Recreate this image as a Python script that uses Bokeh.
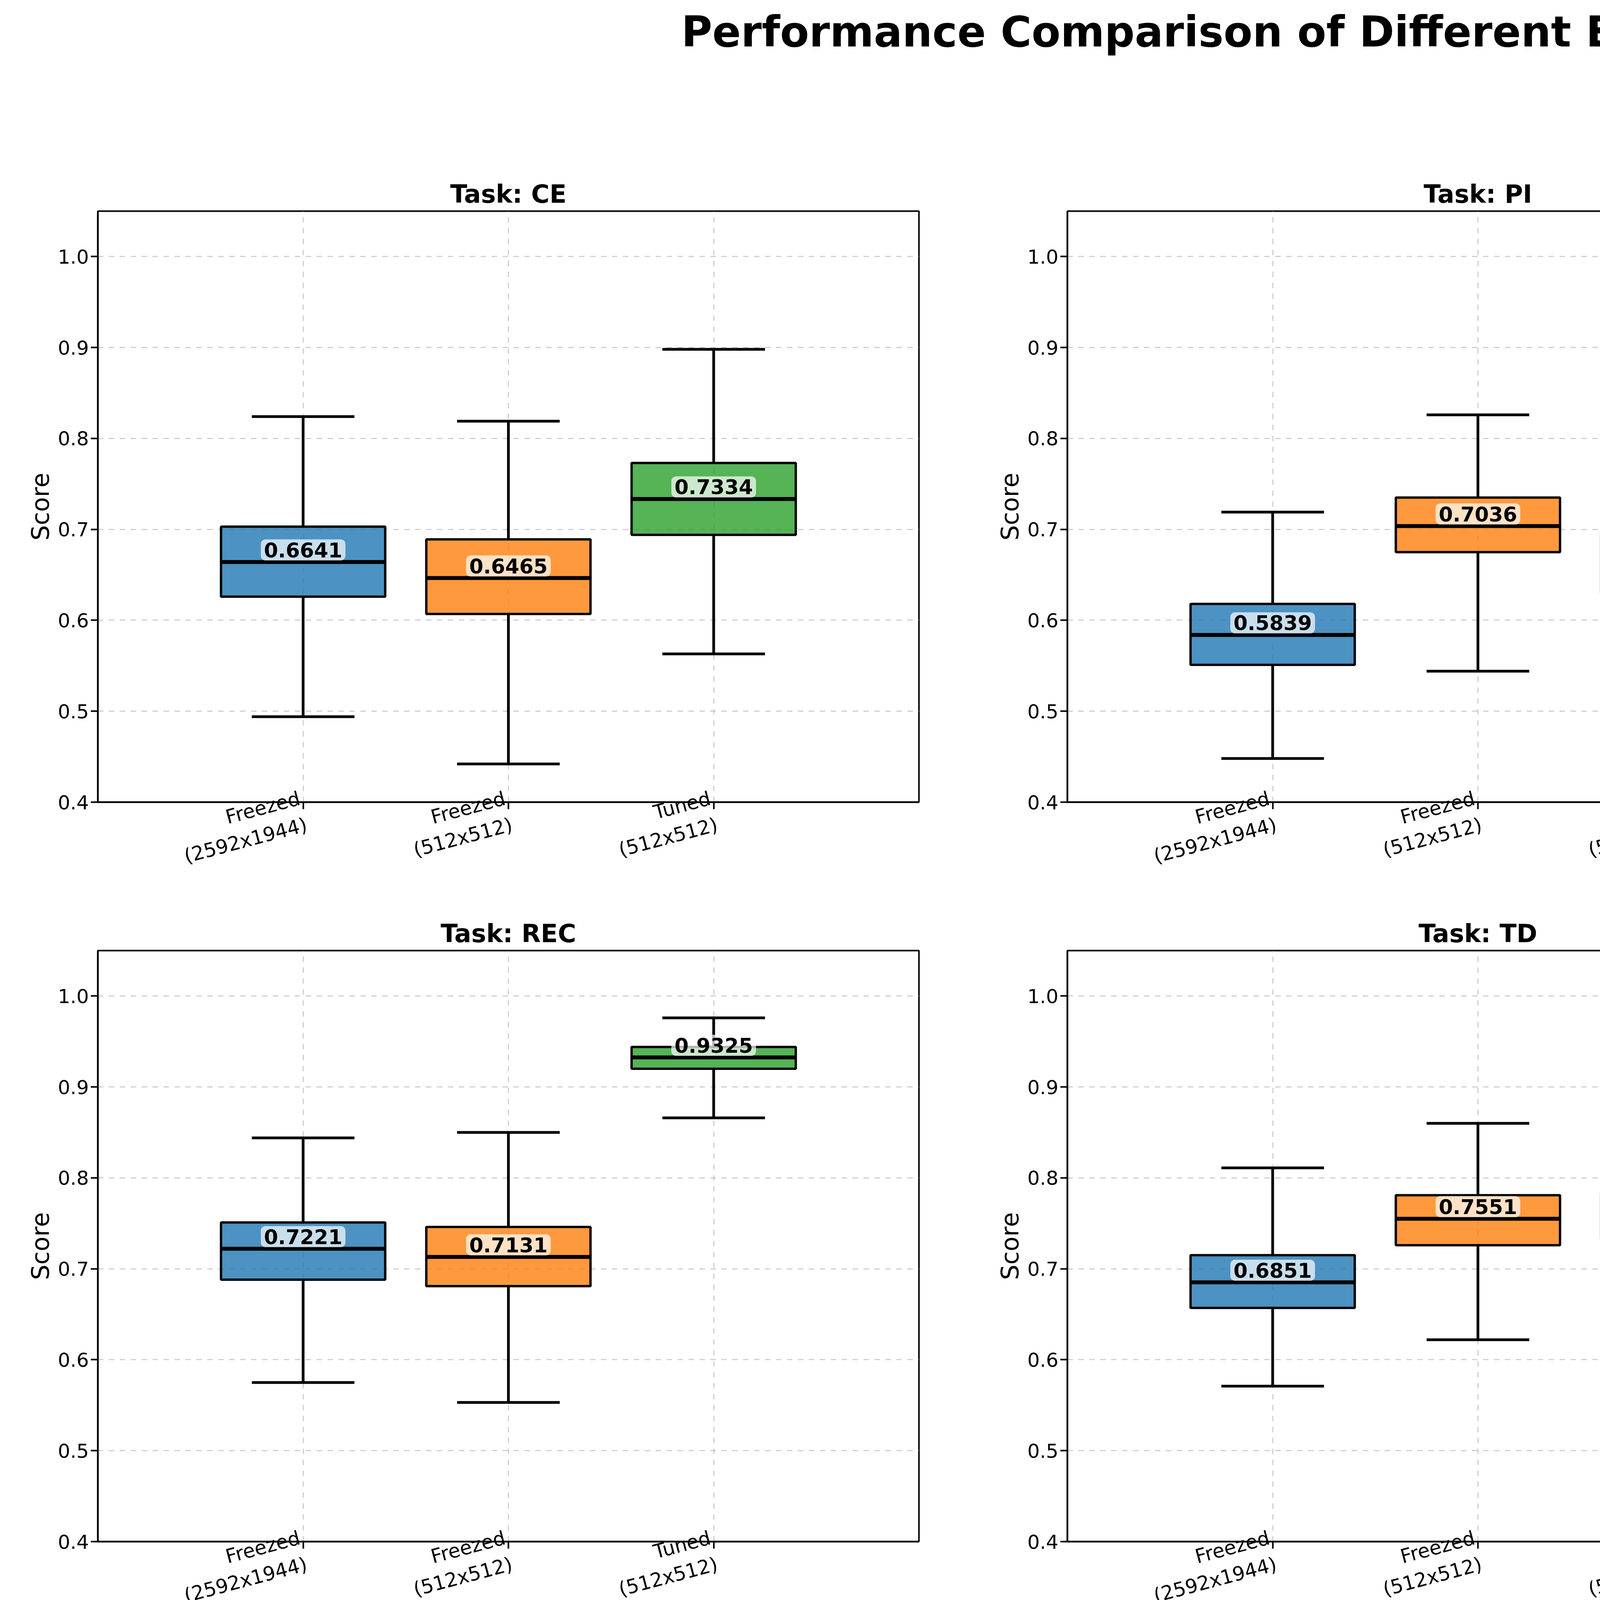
import numpy as np
from bokeh.plotting import figure
from bokeh.layouts import column, gridplot
from bokeh.models import ColumnDataSource, Div, Legend, LegendItem, FixedTicker, Range1d
from bokeh.core.properties import value
from bokeh.embed import file_html
from bokeh.resources import INLINE

# ── Data ───────────────────────────────────────────────────
TASKS = ["CE", "PI", "LNM", "REC", "TD", "TI"]
SETTINGS = ["Freezed (2592x1944)", "Freezed (512x512)", "Tuned (512x512)"]
TICK_LABELS = ["Freezed\n(2592x1944)", "Freezed\n(512x512)", "Tuned\n(512x512)"]
COLORS = ["#1f77b4", "#ff7f0e", "#2ca02c"]

# per task: one row per setting -> whislo, q1, median, q3, whishi
CE = [[0.494, 0.626, 0.6641, 0.703, 0.824],
      [0.442, 0.607, 0.6465, 0.689, 0.819],
      [0.563, 0.694, 0.7334, 0.773, 0.898]]
PI = [[0.448, 0.551, 0.5839, 0.618, 0.719],
      [0.544, 0.675, 0.7036, 0.735, 0.826],
      [0.500, 0.630, 0.6654, 0.695, 0.800]]
LNM = [[0.607, 0.682, 0.7077, 0.733, 0.819],
       [0.546, 0.650, 0.6751, 0.703, 0.793],
       [0.560, 0.672, 0.6945, 0.722, 0.814]]
REC = [[0.575, 0.688, 0.7221, 0.751, 0.844],
       [0.553, 0.681, 0.7131, 0.746, 0.850],
       [0.866, 0.920, 0.9325, 0.944, 0.976]]
TD = [[0.571, 0.657, 0.6851, 0.715, 0.811],
      [0.622, 0.726, 0.7551, 0.781, 0.860],
      [0.635, 0.733, 0.7594, 0.783, 0.868]]
TI = [[0.571, 0.670, 0.6950, 0.719, 0.803],
      [0.549, 0.631, 0.6578, 0.684, 0.761],
      [0.604, 0.699, 0.7266, 0.751, 0.835]]
STATS = {"CE": CE, "PI": PI, "LNM": LNM, "REC": REC, "TD": TD, "TI": TI}

FONT = "DejaVu Sans"
POS = [1, 2, 3]
BOX_W = 0.8
CAP_W = 0.5


def task_figure(task):
    p = figure(frame_width=2102, frame_height=1513, output_backend="svg",
               toolbar_location=None, x_range=Range1d(0, 4), y_range=Range1d(0.4, 1.05),
               title=f"Task: {task}", min_border_left=250, min_border_right=130,
               min_border_top=10, min_border_bottom=290)
    p.title.text_font = FONT
    p.title.text_font_size = "64px"
    p.title.text_font_style = "bold"
    p.title.text_color = "black"
    p.title.align = "center"
    p.title.offset = 0
    p.title.standoff = 14

    p.outline_line_color = "black"
    p.outline_line_width = 4
    for ax in (p.xaxis, p.yaxis):
        ax.axis_line_width = 4
        ax.major_tick_line_width = 4
        ax.major_tick_out = 18
        ax.major_tick_in = 0
        ax.minor_tick_line_color = None
        ax.major_label_text_font = FONT
        ax.major_label_text_font_size = "50px"
        ax.major_label_text_color = "black"
    ticks = [0.4, 0.5, 0.6, 0.7, 0.8, 0.9, 1.0]
    p.yaxis.ticker = FixedTicker(ticks=ticks)
    p.yaxis.major_label_overrides = {t: f"{t:.1f}" for t in ticks}
    p.yaxis.axis_label = "Score"
    p.yaxis.axis_label_text_font = FONT
    p.yaxis.axis_label_text_font_size = "62px"
    p.yaxis.axis_label_text_font_style = "normal"
    p.yaxis.axis_label_text_color = "black"
    p.xaxis.ticker = FixedTicker(ticks=POS)
    p.xaxis.major_label_overrides = dict(zip(POS, TICK_LABELS))
    p.xaxis.major_label_orientation = 0.26
    p.grid.grid_line_color = "#b0b0b0"
    p.grid.grid_line_alpha = 0.6
    p.grid.grid_line_width = 3
    p.grid.grid_line_dash = "14 14"

    rows = STATS[task]
    lo = [r[0] for r in rows]
    q1 = [r[1] for r in rows]
    md = [r[2] for r in rows]
    q3 = [r[3] for r in rows]
    hi = [r[4] for r in rows]
    src = ColumnDataSource(dict(
        x=POS, lo=lo, q1=q1, md=md, q3=q3, hi=hi, color=COLORS,
        xl=[x - BOX_W / 2 for x in POS], xr=[x + BOX_W / 2 for x in POS],
        cl=[x - CAP_W / 2 for x in POS], cr=[x + CAP_W / 2 for x in POS],
        lbl=[f"{m:.4f}" for m in md],
    ))
    p.segment("x", "q3", "x", "hi", source=src, line_color="black", line_width=7)
    p.segment("x", "q1", "x", "lo", source=src, line_color="black", line_width=7)
    p.segment("cl", "hi", "cr", "hi", source=src, line_color="black", line_width=7)
    p.segment("cl", "lo", "cr", "lo", source=src, line_color="black", line_width=7)
    p.vbar(x="x", bottom="q1", top="q3", width=BOX_W, source=src,
           fill_color="color", fill_alpha=0.8, line_color="black", line_width=6)
    p.segment("xl", "md", "xr", "md", source=src, line_color="black", line_width=10)
    p.text("x", "md", text="lbl", source=src, text_align="center", text_baseline="bottom",
           y_offset=-4, text_font=value(FONT), text_font_size="52px", text_font_style="bold",
           text_color="black", background_fill_color="white", background_fill_alpha=0.7,
           border_radius=12, padding=8)
    return p


figs = [task_figure(t) for t in TASKS]
grid = gridplot([figs[0:3], figs[3:6]], toolbar_location=None)

title = Div(text="Performance Comparison of Different Experimental Settings",
            width=7150, height=440,
            styles={"font-family": FONT, "font-size": "108px", "font-weight": "bold",
                    "text-align": "center", "width": "7150px", "color": "black"})

# legend panel
lp = figure(width=7150, height=290, output_backend="svg", toolbar_location=None,
            x_range=Range1d(0, 1), y_range=Range1d(0, 1), min_border=0)
lp.axis.visible = False
lp.grid.visible = False
lp.outline_line_color = None
items = []
for name, c in zip(SETTINGS, COLORS):
    r = lp.quad(left=[], right=[], top=[], bottom=[], fill_color=c, line_color=c)
    items.append(LegendItem(label=name, renderers=[r]))
leg = Legend(items=items, orientation="horizontal", location="center",
             title="Model Settings", title_location="above")
leg.title_text_font = FONT
leg.title_text_font_size = "74px"
leg.title_text_font_style = "normal"
leg.title_text_align = "center"
leg.label_text_font = FONT
leg.label_text_font_size = "66px"
leg.glyph_width = 160
leg.glyph_height = 60
leg.spacing = 160
leg.padding = 30
leg.border_line_color = "black"
leg.border_line_width = 4
leg.border_radius = 10
lp.add_layout(leg, "center")

layout = column(title, grid, lp)
open("out.html", "w").write(file_html(layout, INLINE))
